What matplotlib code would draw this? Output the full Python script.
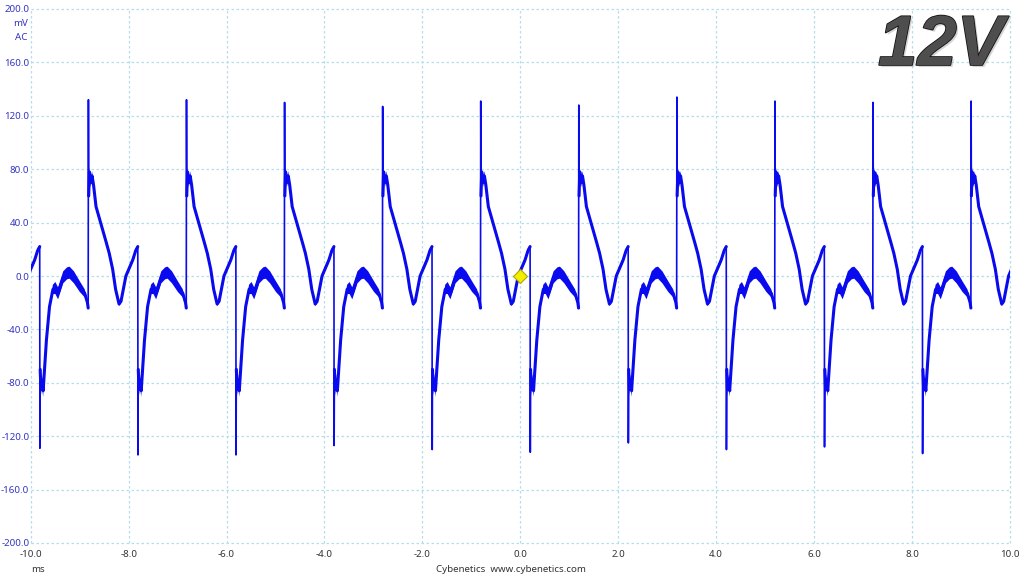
import numpy as np
import matplotlib
matplotlib.use("Agg")
import matplotlib.pyplot as plt
import matplotlib.patheffects as pe

# ---------------- data ----------------
x_ticks = [-10.0, -8.0, -6.0, -4.0, -2.0, 0.0, 2.0, 4.0, 6.0, 8.0, 10.0]
y_ticks = [-200.0, -160.0, -120.0, -80.0, -40.0, 0.0, 40.0, 80.0, 120.0, 160.0, 200.0]

period_ms = 2.003          # ripple period
first_down_ms = -9.816     # time of first negative spike

# one cycle of the waveform, time relative to the negative spike (ms)
cycle_t = [0.000, 0.004, 0.010, 0.025, 0.045, 0.070, 0.090, 0.137, 0.200, 0.270,
           0.320, 0.375, 0.420, 0.480, 0.560, 0.610, 0.700, 0.820, 0.920, 0.975,
           0.990, 0.995, 1.000, 1.015, 1.040, 1.070, 1.100, 1.150, 1.260, 1.360,
           1.420, 1.490, 1.550, 1.620, 1.660, 1.760, 1.900, 1.960]
cycle_v = [22.0, -130.0, -70.0, -85.0, -78.0, -86.0, -75.0, -48.0, -23.0, -10.0,
           -9.0, -13.0, -8.0, -1.0, 2.0, 2.5, -1.0, -8.0, -13.0, -20.0,
           -24.0, 130.0, 60.0, 78.0, 70.0, 75.0, 68.0, 52.0, 38.0, 25.0,
           17.0, 5.0, -10.0, -21.0, -19.0, 0.0, 12.0, 19.0]
# half-thickness of the noise band around the trace (mV)
cycle_w = [1.0, 0.0, 3.0, 4.5, 4.5, 4.5, 3.0, 2.0, 2.0, 3.5,
           4.5, 4.5, 4.5, 4.5, 4.5, 4.5, 4.5, 4.0, 3.0, 2.0,
           1.0, 0.0, 0.0, 3.5, 3.5, 3.5, 2.0, 1.5, 1.0, 1.5,
           1.5, 1.0, 1.0, 1.5, 1.5, 1.5, 2.0, 2.0]
down_idx = 1
up_idx = 21

# per-cycle spike extremes (mV), cycles 0..9
down_spike_min = [-129.0, -134.0, -134.0, -127.0, -130.0, -132.0, -125.0, -130.0, -128.0, -133.0]
up_spike_max = [132.0, 132.0, 130.0, 127.0, 131.0, 128.0, 134.0, 131.0, 130.0, 131.0]

marker_t = [0.0]
marker_v = [0.0]

# ---------------- build trace ----------------
T, V, W, SP = [], [], [], []
for k in range(-1, 10):
    td = first_down_ms + k * period_ms
    vals = list(cycle_v)
    kk = max(k, 0)
    vals[down_idx] = down_spike_min[kk]
    vals[up_idx] = up_spike_max[kk]
    base = len(T)
    T.extend([td + t for t in cycle_t])
    V.extend(vals)
    W.extend(cycle_w)
    SP.extend([base + down_idx, base + up_idx])
T = np.array(T); V = np.array(V); W = np.array(W)

V_main = V.copy()
V_main[SP] = np.nan

# ---------------- figure ----------------
W_PX, H_PX = 1024, 576
fig = plt.figure(figsize=(W_PX / 100, H_PX / 100), dpi=100)
fig.patch.set_facecolor("white")
ax = fig.add_axes([30.7 / W_PX, 33 / H_PX, 979.3 / W_PX, 534 / H_PX])
ax.set_facecolor("white")
ax.set_xlim(-10, 10)
ax.set_ylim(-200, 200)

grid_col = "#b3deea"
for xv in x_ticks:
    ax.axvline(xv, color=grid_col, lw=0.9, ls=(0, (2, 2)), zorder=1, clip_on=False)
for yv in y_ticks:
    ax.axhline(yv, color=grid_col, lw=0.9, ls=(0, (2, 2)), zorder=1, clip_on=False)
for s in ax.spines.values():
    s.set_visible(False)

trace_col = "#0a0aee"
ax.fill_between(T, V - W, V + W, color=trace_col, lw=0, zorder=3)
ax.plot(T, V_main, color=trace_col, lw=2.2, zorder=4, solid_capstyle="round")
for i in SP:
    ax.plot(T[i - 1:i + 2], V[i - 1:i + 2], color=trace_col, lw=1.2, zorder=4)

ax.plot(marker_t, marker_v, marker="D", ms=7, mfc="#f2f000", mec="#b0a800",
        mew=0.8, ls="none", zorder=6)

font = "Noto Sans"
ax.set_xticks(x_ticks)
ax.set_xticklabels([f"{v:.1f}" for v in x_ticks], fontsize=7, color="#333333",
                   family=font)
ax.set_yticks(y_ticks)
ax.set_yticklabels([f"{v:.1f}" for v in y_ticks], fontsize=7, color="#3434c4",
                   family=font)
ax.tick_params(axis="x", length=0, pad=5)
ax.tick_params(axis="y", length=0, pad=1)

def fx(px):
    return px / W_PX

def fy(py):
    return 1 - py / H_PX

fig.text(fx(27.5), fy(23), "mV", fontsize=7, color="#3434c4", family=font,
         ha="right", va="center")
fig.text(fx(27), fy(37), "AC", fontsize=7, color="#3434c4", family=font,
         ha="right", va="center")
fig.text(fx(38), fy(569), "ms", fontsize=7, color="#333333", family=font,
         ha="center", va="center")
fig.text(fx(511), fy(569), "Cybenetics  www.cybenetics.com", fontsize=7,
         color="#333333", family=font, ha="center", va="center")

fig.text(fx(1004), fy(65), "12V", fontsize=51, fontweight="bold", fontstyle="italic",
         family="Liberation Sans", color="#4e4e4e", ha="right", va="baseline",
         path_effects=[pe.withSimplePatchShadow(offset=(1.5, -1.5), shadow_rgbFace="#aaaaaa", alpha=0.5),
                       pe.withStroke(linewidth=1.2, foreground="#121212")])

fig.savefig("out.png", dpi=100, facecolor="white")
